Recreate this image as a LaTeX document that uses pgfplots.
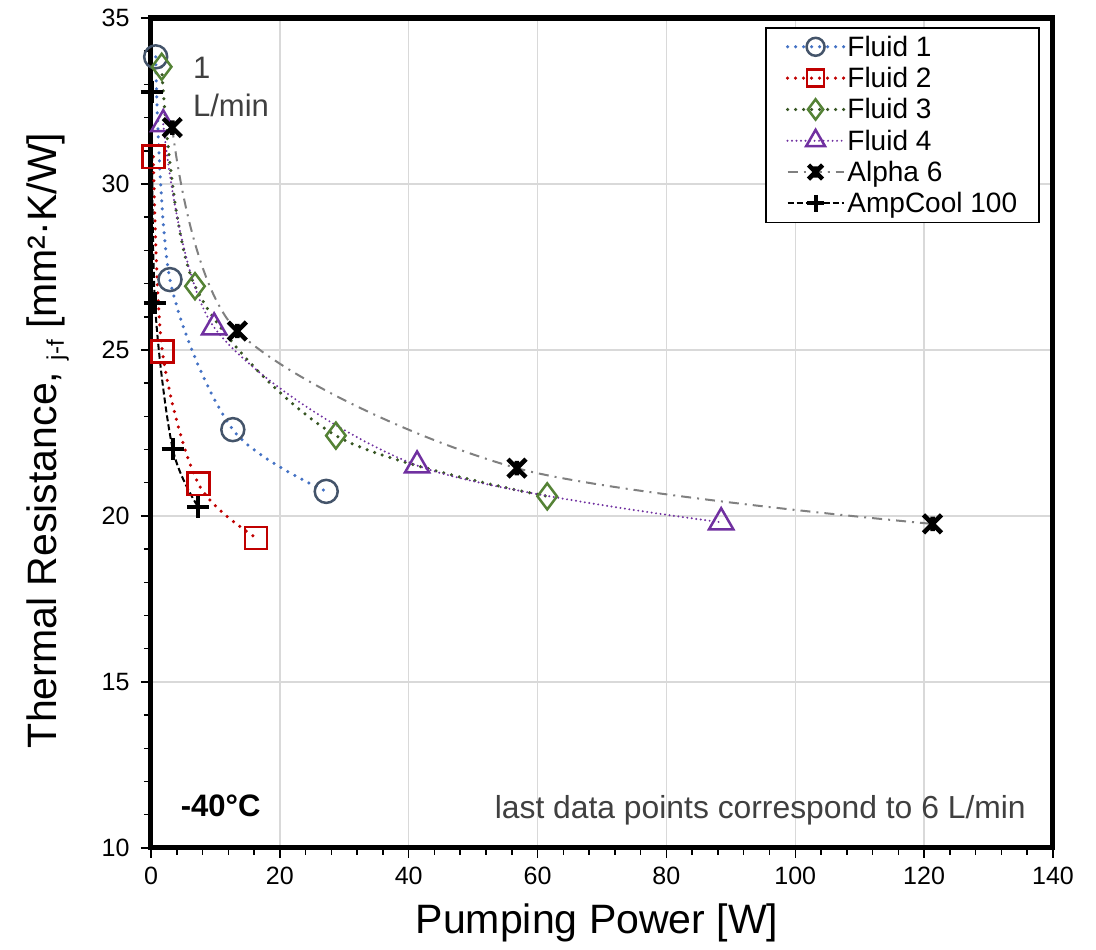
\documentclass[border=0pt]{standalone}
\usepackage{fontspec}
\setmainfont{Liberation Sans}
\usepackage{pgfplots}
\pgfplotsset{compat=1.18}
\definecolor{c1line}{HTML}{4472C4}
\definecolor{c1mark}{HTML}{44546A}
\definecolor{c2}{HTML}{C00000}
\definecolor{c3line}{HTML}{375623}
\definecolor{c3mark}{HTML}{548235}
\definecolor{c4}{HTML}{7030A0}
\definecolor{gridc}{HTML}{D9D9D9}
\definecolor{txtgray}{HTML}{404040}
\pgfdeclareplotmark{xstar}{%
  \pgfpathmoveto{\pgfqpoint{-\pgfplotmarksize}{-\pgfplotmarksize}}%
  \pgfpathlineto{\pgfqpoint{\pgfplotmarksize}{\pgfplotmarksize}}%
  \pgfpathmoveto{\pgfqpoint{-\pgfplotmarksize}{\pgfplotmarksize}}%
  \pgfpathlineto{\pgfqpoint{\pgfplotmarksize}{-\pgfplotmarksize}}%
  \pgfpathmoveto{\pgfqpoint{0pt}{-0.8\pgfplotmarksize}}%
  \pgfpathlineto{\pgfqpoint{0pt}{0.8\pgfplotmarksize}}%
  \pgfusepathqstroke}
\begin{document}
\begin{tikzpicture}
\begin{axis}[
  width=901pt, height=829pt, scale only axis,
  xmin=0, xmax=140, ymin=10, ymax=35,
  xtick={0,20,...,140}, ytick={10,15,...,35},
  minor x tick num=4, minor y tick num=4,
  xtick pos=bottom, ytick pos=left,
  grid=major, major grid style={gridc, line width=1.5pt},
  axis line style={line width=5pt, black},
  tick style={black, line width=1.5pt},
  major tick length=10pt, minor tick length=7pt,
  tick align=outside,
  minor tick style={/pgfplots/tick align=inside},
  /pgf/number format/assume math mode=true,
  tick label style={font=\fontsize{25}{30}\selectfont},
  yticklabel style={xshift=-8pt},
  xticklabel style={yshift=-6pt},
  xlabel={Pumping Power [W]},
  ylabel={Thermal Resistance, {\fontsize{24}{28}\selectfont\raisebox{-7pt}{j-f}} [mm²·K/W]},
  every axis x label/.style={at={(rel axis cs:0.4945,-0.0905)}, anchor=center, font=\fontsize{41}{48}\selectfont},
  every axis y label/.style={at={(rel axis cs:-0.1142,0.491)}, anchor=center, rotate=90, font=\fontsize{41}{48}\selectfont},
  clip=false,
  legend style={at={(rel axis cs:0.9856,0.989)}, anchor=north east,
    draw=black, line width=1.5pt, font=\fontsize{28}{33}\selectfont,
    row sep=5.5pt, inner xsep=20pt, inner ysep=6pt, cells={anchor=west}},
  legend image code/.code={\draw[mark repeat=2,mark phase=2,/tikz/every mark/.append style={scale=0.78}] plot coordinates {(0pt,0pt) (28pt,0pt) (56pt,0pt)};},
]
\path (rel axis cs:-0.1674,-0.1230) rectangle (rel axis cs:1.0477,1.0217);

\addplot[c1line, line width=3.5pt, line cap=round, dash pattern=on 0pt off 8pt, smooth, tension=0.5,
  mark=o, mark size=11.5pt, mark options={solid, draw=c1mark, line width=2.5pt, fill=none}]
  coordinates {(0.73,33.83) (2.95,27.12) (12.7,22.6) (27.2,20.74)};
\addlegendentry{Fluid 1}

\addplot[c2, line width=3.5pt, line cap=round, dash pattern=on 0pt off 8pt, smooth, tension=0.5,
  mark=square, mark size=11pt, mark options={solid, draw=c2, line width=2.5pt, fill=none}]
  coordinates {(0.36,30.82) (1.76,24.96) (7.35,20.97) (16.3,19.34)};
\addlegendentry{Fluid 2}

\addplot[c3line, line width=3.5pt, line cap=round, dash pattern=on 0pt off 8pt, smooth, tension=0.5,
  mark=diamond, mark size=13pt, mark options={solid, draw=c3mark, line width=2.5pt, fill=none}]
  coordinates {(1.66,33.53) (6.83,26.92) (28.7,22.42) (61.5,20.59)};
\addlegendentry{Fluid 3}

\addplot[c4, line width=2.2pt, line cap=round, dash pattern=on 0pt off 4.5pt, smooth, tension=0.5,
  mark=triangle, mark size=14pt, mark options={solid, draw=c4, line width=2.5pt, fill=none}]
  coordinates {(1.9,31.8) (9.8,25.68) (41.3,21.52) (88.5,19.81)};
\addlegendentry{Fluid 4}

\addplot[gray, line width=2pt, dash pattern=on 10pt off 6pt on 2pt off 6pt, smooth, tension=0.5,
  mark=xstar, mark size=9pt, mark options={solid, draw=black, line width=4.5pt}]
  coordinates {(3.3,31.7) (13.4,25.57) (56.8,21.44) (121.3,19.76)};
\addlegendentry{Alpha 6}

\addplot[black, line width=2pt, dash pattern=on 6pt off 3pt, smooth, tension=0.5,
  mark=+, mark size=11pt, mark options={solid, draw=black, line width=4pt}]
  coordinates {(0.1,32.78) (0.62,26.4) (3.37,22.02) (7.35,20.26)};
\addlegendentry{AmpCool 100}

\node[anchor=west, txtgray, font=\fontsize{31}{36}\selectfont, inner sep=0pt] at (axis cs:6.5,33.49) {1};
\node[anchor=west, txtgray, font=\fontsize{31}{36}\selectfont, inner sep=0pt] at (axis cs:6.5,32.38) {L/min};
\node[anchor=west, black, font=\bfseries\fontsize{31}{36}\selectfont, inner sep=0pt] at (axis cs:4.6,11.27) {-40°C};
\node[anchor=east, txtgray, font=\fontsize{31.8}{37}\selectfont, inner sep=0pt] at (axis cs:135.8,11.12) {last data points correspond to 6 L/min};
\end{axis}
\end{tikzpicture}
\end{document}
